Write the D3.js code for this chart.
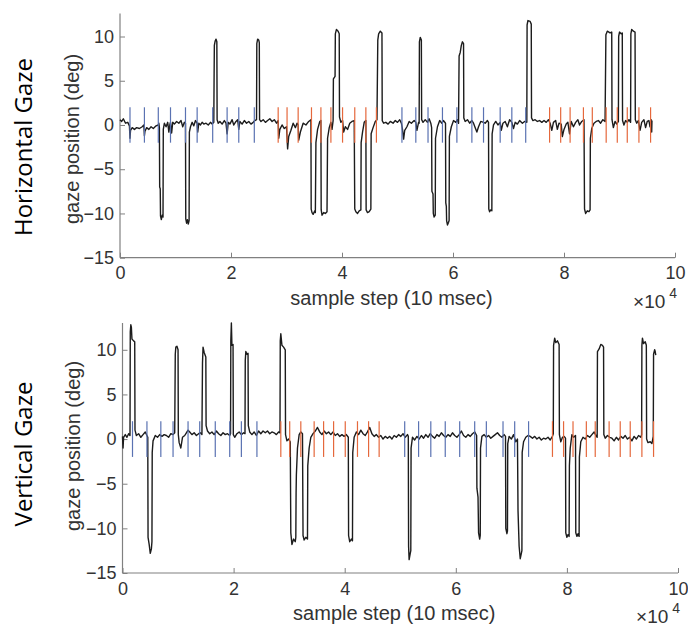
<!DOCTYPE html>
<html><head><meta charset="utf-8">
<script src="https://cdn.jsdelivr.net/npm/d3@7"></script>
<style>body{margin:0;background:#fff}svg{display:block}</style>
</head><body>
<svg id="c" width="688" height="628"></svg>
<script>
// ---- data (sample step in units of 10^4, gaze in deg) ----
const xTickValues = [0, 2, 4, 6, 8, 10];
const yTickValues = [-15, -10, -5, 0, 5, 10];
const blueEvents = [0.18,0.44,0.69,0.91,1.18,1.39,1.67,1.93,2.14,2.42,
                    5.08,5.33,5.55,5.81,6.07,6.34,6.55,6.85,7.06,7.31];
const redEvents  = [2.85,3.01,3.21,3.45,3.62,3.80,4.01,4.23,4.43,4.62,
                    7.74,7.94,8.11,8.35,8.51,8.76,8.96,9.14,9.35,9.56];

const hTime = [0.00,0.03,0.06,0.10,0.14,0.17,0.18,0.19,0.22,0.26,0.30,0.35,0.40,0.43,0.44,0.45,0.48,0.52,0.56,0.60,0.65,0.69,0.70,0.71,0.715,0.725,0.73,0.745,0.76,0.775,0.78,0.80,0.83,0.86,0.88,0.90,0.91,0.93,0.95,0.98,1.02,1.06,1.10,1.13,1.16,1.18,1.185,1.20,1.215,1.23,1.245,1.25,1.27,1.30,1.33,1.36,1.39,1.40,1.42,1.45,1.48,1.51,1.55,1.59,1.63,1.66,1.69,1.695,1.70,1.715,1.73,1.745,1.75,1.77,1.80,1.84,1.88,1.91,1.93,1.95,1.98,2.02,2.05,2.09,2.12,2.14,2.16,2.20,2.24,2.28,2.32,2.36,2.40,2.43,2.46,2.465,2.48,2.50,2.51,2.515,2.54,2.58,2.62,2.66,2.70,2.74,2.78,2.82,2.85,2.86,2.88,2.92,2.96,3.00,3.02,3.04,3.08,3.12,3.16,3.19,3.21,3.22,3.25,3.30,3.35,3.40,3.44,3.445,3.46,3.48,3.51,3.52,3.53,3.56,3.60,3.62,3.625,3.64,3.67,3.70,3.73,3.74,3.77,3.80,3.82,3.84,3.845,3.875,3.88,3.90,3.93,3.95,3.955,3.98,4.01,4.03,4.06,4.10,4.14,4.18,4.22,4.23,4.25,4.28,4.31,4.34,4.345,4.37,4.40,4.43,4.435,4.46,4.49,4.52,4.525,4.56,4.60,4.63,4.645,4.66,4.69,4.72,4.725,4.75,4.79,4.83,4.87,4.92,4.96,5.00,5.04,5.07,5.09,5.11,5.13,5.17,5.21,5.25,5.30,5.33,5.35,5.38,5.39,5.395,5.41,5.43,5.435,5.46,5.50,5.54,5.57,5.60,5.615,5.62,5.64,5.645,5.66,5.68,5.685,5.72,5.76,5.80,5.83,5.865,5.87,5.88,5.885,5.90,5.92,5.93,5.935,5.97,6.01,6.05,6.08,6.10,6.11,6.13,6.15,6.17,6.19,6.195,6.22,6.26,6.30,6.34,6.37,6.40,6.43,6.46,6.50,6.55,6.58,6.62,6.64,6.645,6.66,6.68,6.70,6.705,6.73,6.77,6.81,6.85,6.87,6.90,6.94,6.98,7.02,7.06,7.09,7.12,7.16,7.20,7.25,7.29,7.33,7.335,7.35,7.39,7.41,7.415,7.44,7.48,7.52,7.56,7.60,7.64,7.68,7.72,7.75,7.78,7.81,7.85,7.88,7.91,7.95,7.97,8.00,8.04,8.07,8.10,8.13,8.17,8.21,8.25,8.28,8.32,8.36,8.37,8.39,8.42,8.45,8.47,8.475,8.50,8.54,8.58,8.62,8.66,8.70,8.74,8.755,8.78,8.83,8.86,8.865,8.89,8.92,8.95,8.98,8.985,9.00,9.03,9.05,9.055,9.08,9.11,9.14,9.17,9.20,9.205,9.22,9.25,9.28,9.285,9.31,9.34,9.37,9.40,9.44,9.47,9.50,9.53,9.55,9.57,9.58,9.585];
const hGaze = [0.6,0.4,0.7,0.2,0.3,-0.1,-1.5,-0.6,-0.3,-0.5,-0.3,-0.4,-0.2,0.0,-1.2,-0.7,-0.3,-0.5,-0.2,-0.4,-0.1,0.0,0.2,-0.3,-7.0,-7.2,-10.3,-10.7,-10.2,-10.4,-0.5,0.2,-0.2,0.3,-0.8,0.1,0.3,-0.9,0.3,0.1,0.4,0.2,0.5,-0.2,0.3,0.2,-10.6,-11.1,-10.7,-11.2,-10.8,-0.8,-0.2,0.3,-0.1,0.5,0.2,-0.8,0.2,0.0,0.3,0.1,0.2,0.0,0.3,0.1,0.3,5.0,9.0,9.5,9.7,9.4,0.6,0.2,0.4,0.1,0.5,0.2,-1.0,0.3,0.1,0.6,0.0,0.4,0.6,-0.5,0.4,0.1,0.5,0.2,0.4,0.1,0.3,0.5,0.6,9.2,9.7,9.6,9.3,0.6,0.4,0.6,0.3,0.5,0.7,0.4,0.6,0.2,0.5,-1.5,-0.5,0.0,-0.4,-0.2,-2.7,-1.3,-0.6,0.2,-0.3,0.2,0.0,-1.7,-0.8,0.2,0.0,0.4,0.6,-9.5,-9.9,-10.1,-9.7,-9.9,-2.0,-0.5,0.4,0.5,-9.6,-10.2,-9.9,-10.0,-9.8,-1.5,-0.3,0.3,-0.5,0.5,5.2,5.5,10.3,10.8,10.6,10.3,0.9,0.3,0.5,-0.8,-0.2,-0.5,0.2,0.4,0.5,-9.5,-9.8,-10.0,-9.7,-9.6,-2.0,-0.8,0.3,0.5,-9.6,-9.9,-9.8,-9.5,-1.0,-0.3,0.4,0.6,9.6,10.3,10.6,10.4,0.5,0.2,0.3,0.1,0.4,0.2,0.5,0.3,0.6,0.2,-0.5,-1.6,-0.6,-0.2,0.4,0.2,0.5,0.3,-0.6,0.3,0.2,9.4,9.9,9.6,0.6,0.3,0.6,0.3,0.7,0.2,-0.3,-7.5,-7.8,-10.0,-10.4,-10.2,-1.5,-0.2,0.5,0.2,0.5,0.2,-8.8,-9.2,-10.8,-11.3,-11.0,-10.8,-1.3,-0.2,0.5,0.3,0.6,0.2,7.8,8.2,9.0,9.4,9.2,0.8,0.4,0.6,0.2,0.5,0.2,-0.3,-0.8,-0.2,0.4,0.3,0.2,0.5,0.3,-9.5,-9.8,-9.6,-9.7,-1.0,0.0,0.4,0.0,0.3,-0.6,0.2,0.4,-0.2,0.6,0.3,-0.4,0.3,0.1,0.5,0.2,0.4,0.3,11.3,11.8,11.7,11.4,0.8,0.5,0.6,0.4,0.5,0.3,0.5,0.3,0.6,0.2,-0.6,0.3,0.5,-0.5,0.2,0.1,-1.3,-0.5,0.1,0.3,-1.0,0.4,-0.2,0.3,0.6,0.0,0.4,0.6,-9.5,-10.0,-9.7,-9.8,-9.6,-1.5,-0.4,0.2,0.4,0.5,0.2,0.6,0.4,10.2,10.6,10.4,10.5,0.6,-0.3,0.4,0.1,0.4,10.0,10.5,10.3,10.4,0.5,0.0,0.5,0.3,0.6,0.3,10.3,10.8,10.6,10.5,0.6,0.2,0.5,-0.6,0.3,0.6,-0.3,0.4,0.5,-0.2,0.6,-0.8,0.5];

const vTime = [0.00,0.01,0.02,0.05,0.08,0.11,0.135,0.14,0.15,0.16,0.17,0.20,0.22,0.225,0.25,0.29,0.33,0.37,0.41,0.44,0.455,0.46,0.48,0.50,0.52,0.53,0.535,0.55,0.59,0.63,0.67,0.71,0.75,0.79,0.83,0.87,0.91,0.94,0.95,0.96,0.98,1.00,1.005,1.02,1.05,1.08,1.12,1.15,1.18,1.21,1.25,1.29,1.33,1.37,1.40,1.43,1.44,1.45,1.47,1.50,1.505,1.53,1.57,1.61,1.65,1.69,1.73,1.77,1.81,1.85,1.89,1.93,1.945,1.95,1.96,1.97,1.99,1.995,2.02,2.06,2.10,2.14,2.18,2.205,2.21,2.22,2.24,2.26,2.265,2.29,2.33,2.37,2.41,2.45,2.49,2.53,2.57,2.61,2.65,2.69,2.73,2.77,2.81,2.835,2.84,2.85,2.87,2.90,2.93,2.935,2.96,2.99,3.02,3.03,3.05,3.08,3.11,3.12,3.125,3.13,3.15,3.18,3.21,3.24,3.25,3.27,3.30,3.33,3.335,3.36,3.39,3.43,3.47,3.51,3.55,3.59,3.63,3.67,3.71,3.75,3.79,3.83,3.87,3.91,3.95,3.99,4.03,4.065,4.07,4.09,4.12,4.14,4.145,4.17,4.21,4.25,4.29,4.33,4.37,4.41,4.45,4.49,4.53,4.57,4.61,4.65,4.69,4.73,4.77,4.81,4.85,4.89,4.93,4.97,5.01,5.05,5.09,5.13,5.145,5.15,5.16,5.18,5.19,5.195,5.22,5.26,5.30,5.34,5.38,5.42,5.46,5.50,5.54,5.58,5.62,5.66,5.70,5.74,5.78,5.82,5.86,5.90,5.94,5.98,6.02,6.06,6.10,6.14,6.18,6.22,6.26,6.30,6.34,6.375,6.38,6.40,6.41,6.43,6.44,6.445,6.47,6.51,6.55,6.59,6.63,6.67,6.71,6.75,6.79,6.83,6.87,6.895,6.90,6.92,6.93,6.935,6.96,7.00,7.04,7.08,7.11,7.12,7.14,7.16,7.18,7.19,7.195,7.22,7.26,7.30,7.34,7.38,7.42,7.46,7.50,7.54,7.58,7.62,7.66,7.70,7.74,7.755,7.76,7.78,7.80,7.83,7.86,7.865,7.89,7.92,7.95,7.975,7.98,8.00,8.02,8.04,8.045,8.06,8.09,8.12,8.155,8.16,8.18,8.20,8.22,8.225,8.25,8.29,8.33,8.37,8.41,8.45,8.49,8.53,8.545,8.55,8.58,8.61,8.64,8.66,8.665,8.69,8.73,8.77,8.81,8.85,8.89,8.93,8.97,9.01,9.05,9.09,9.13,9.17,9.21,9.25,9.29,9.33,9.345,9.35,9.36,9.38,9.41,9.43,9.435,9.46,9.50,9.53,9.555,9.56,9.58,9.59,9.60];
const vGaze = [0.3,-1.0,0.2,0.5,0.2,0.6,0.4,12.0,12.8,12.5,11.2,11.0,10.9,1.0,0.4,0.6,0.2,0.5,0.8,0.4,0.2,-11.0,-11.8,-12.8,-12.3,-11.5,-1.5,-0.2,0.4,0.2,0.5,0.3,0.5,0.4,0.2,0.6,0.5,0.7,9.5,10.3,10.4,10.0,0.5,-0.4,-1.0,0.2,0.4,0.7,1.0,0.8,0.5,0.7,0.4,0.6,0.7,0.5,8.5,10.3,9.7,9.2,1.5,0.9,0.6,0.8,0.5,0.9,0.6,0.4,0.7,0.5,0.6,0.4,0.6,11.0,13.0,10.5,10.6,0.5,0.2,0.6,0.8,0.5,0.7,0.6,8.8,9.8,9.5,9.6,1.5,0.8,0.5,0.8,0.4,0.9,0.6,0.9,0.7,0.9,0.6,0.8,0.7,0.5,0.8,0.7,11.0,11.8,10.5,10.3,10.0,0.5,-0.2,0.0,-0.3,-10.5,-11.8,-11.2,-11.5,-11.0,-6.0,-4.0,-1.0,0.5,0.8,0.6,-10.8,-11.3,-11.0,-11.2,-3.0,-1.0,0.2,0.6,0.9,1.3,0.8,0.5,0.9,0.6,0.8,0.5,0.8,0.4,0.6,0.3,0.5,0.3,0.5,0.2,-10.8,-11.5,-11.2,-11.4,-1.5,0.2,0.8,0.5,1.0,0.6,0.4,0.8,1.3,0.6,0.3,0.5,0.2,0.4,0.0,0.3,0.1,0.3,0.0,0.4,0.2,0.5,0.3,0.6,0.2,0.5,0.3,-12.0,-13.5,-12.8,-12.5,-1.0,0.2,-0.1,0.3,0.0,0.4,0.1,0.5,0.2,0.6,0.3,0.1,0.5,0.3,0.7,0.4,0.2,0.5,0.3,0.7,0.4,0.2,0.5,0.9,0.4,0.2,0.5,0.3,0.6,0.8,0.4,-5.5,-6.5,-10.5,-11.2,-10.8,-1.0,0.3,0.5,0.2,0.4,0.1,0.3,0.5,0.7,0.4,0.2,0.5,0.3,-10.0,-10.6,-10.3,-0.5,0.3,0.0,0.5,-0.3,0.0,-8.0,-12.0,-13.4,-12.8,-12.5,-1.5,-0.3,0.2,0.4,0.3,0.1,0.3,0.0,0.2,-0.1,0.1,0.0,0.2,-0.1,0.3,0.6,10.5,11.3,10.8,11.0,10.6,0.5,-0.3,0.2,0.3,0.1,-10.5,-11.0,-10.7,-10.9,-3.0,-1.0,0.5,0.2,0.4,-10.5,-10.9,-10.6,-10.9,-2.0,-0.3,0.2,0.0,0.4,0.2,0.5,0.8,0.3,0.2,9.8,10.1,10.6,10.5,10.3,0.5,0.1,0.4,0.2,0.1,-0.2,0.2,-0.1,0.3,0.1,0.4,0.0,0.2,-0.2,0.3,0.0,0.4,0.2,0.5,10.5,11.3,10.7,10.9,10.5,0.0,-0.4,-0.3,-0.5,0.3,9.5,10.0,9.8,9.4];

// ---- drawing ----
const svg = d3.select("#c");
const tickFont = "'Liberation Sans', Arial, sans-serif";

function panel(cfg) {
  const x = d3.scaleLinear().domain([0, 10]).range([cfg.x0, cfg.x1]);
  const y = d3.scaleLinear().domain(cfg.yDomain).range([cfg.yBottom, cfg.yTop]);
  const g = svg.append("g");

  const xa = g.append("g").attr("transform", `translate(0,${cfg.yBottom})`)
    .call(d3.axisBottom(x).tickValues(xTickValues).tickSize(-5).tickPadding(9).tickFormat(d3.format("d")));
  const ya = g.append("g").attr("transform", `translate(${cfg.x0},0)`)
    .call(d3.axisLeft(y).tickValues(yTickValues).tickSize(-5).tickPadding(6).tickFormat(d3.format("d")));
  [xa, ya].forEach(a => {
    a.select(".domain").remove();
    a.selectAll(".tick line").attr("stroke", "#808080").attr("stroke-width", 1);
    a.selectAll(".tick text").attr("fill", "#333").style("font-family", tickFont).style("font-size", "18px");
  });
  g.append("line").attr("x1", cfg.x0).attr("x2", cfg.x1).attr("y1", cfg.yBottom).attr("y2", cfg.yBottom)
    .attr("stroke", "#808080").attr("stroke-width", 1.2);
  g.append("line").attr("x1", cfg.x0).attr("x2", cfg.x0).attr("y1", cfg.yTop).attr("y2", cfg.yBottom)
    .attr("stroke", "#808080").attr("stroke-width", 1.2);

  const pts = cfg.time.map((t, i) => [t, cfg.gaze[i]]);
  g.append("path").datum(pts)
    .attr("fill", "none").attr("stroke", "#1c1c1c").attr("stroke-width", 1.4)
    .attr("stroke-linejoin", "round")
    .attr("d", d3.line().x(d => x(d[0])).y(d => y(d[1])));

  const mk = (arr, col) => g.append("g").selectAll("line").data(arr).join("line")
    .attr("x1", d => x(d)).attr("x2", d => x(d))
    .attr("y1", y(2)).attr("y2", y(-2))
    .attr("stroke", col).attr("stroke-width", 1.2);
  mk(blueEvents, "#5a72b2");
  mk(redEvents, "#e5683c");

  g.append("text").attr("x", (cfg.x0 + cfg.x1) / 2 - 6).attr("y", cfg.yBottom + 47)
    .attr("text-anchor", "middle").attr("fill", "#333")
    .style("font-family", tickFont).style("font-size", "20px").text("sample step (10 msec)");
  const ex = g.append("text").attr("x", cfg.x1 + 2).attr("y", cfg.yBottom + 50)
    .attr("text-anchor", "end")
    .attr("fill", "#333").style("font-family", tickFont).style("font-size", "19px");
  ex.append("tspan").text("×10");
  ex.append("tspan").attr("dy", -10).style("font-size", "14px").text(" 4");

  g.append("text").attr("transform", `translate(${cfg.ylabX},${cfg.ylabY}) rotate(-90)`)
    .attr("text-anchor", "middle").attr("fill", "#333")
    .style("font-family", tickFont).style("font-size", "20px").text("gaze position (deg)");
  g.append("text").attr("transform", `translate(${cfg.titleX},${cfg.ylabY + 8}) rotate(-90)`)
    .attr("text-anchor", "middle").attr("fill", "#000")
    .style("font-family", "'Open Sans', sans-serif").style("font-size", "24px").text(cfg.title);
}

panel({ x0: 120, x1: 675, yTop: 13.5, yBottom: 257.7, yDomain: [-15, 12.6],
  time: hTime, gaze: hGaze, ylabX: 79, ylabY: 139, titleX: 32, title: "Horizontal Gaze" });
panel({ x0: 122.5, x1: 678, yTop: 323, yBottom: 573, yDomain: [-15, 13],
  time: vTime, gaze: vGaze, ylabX: 80, ylabY: 446, titleX: 32, title: "Vertical Gaze" });
</script>
</body></html>
